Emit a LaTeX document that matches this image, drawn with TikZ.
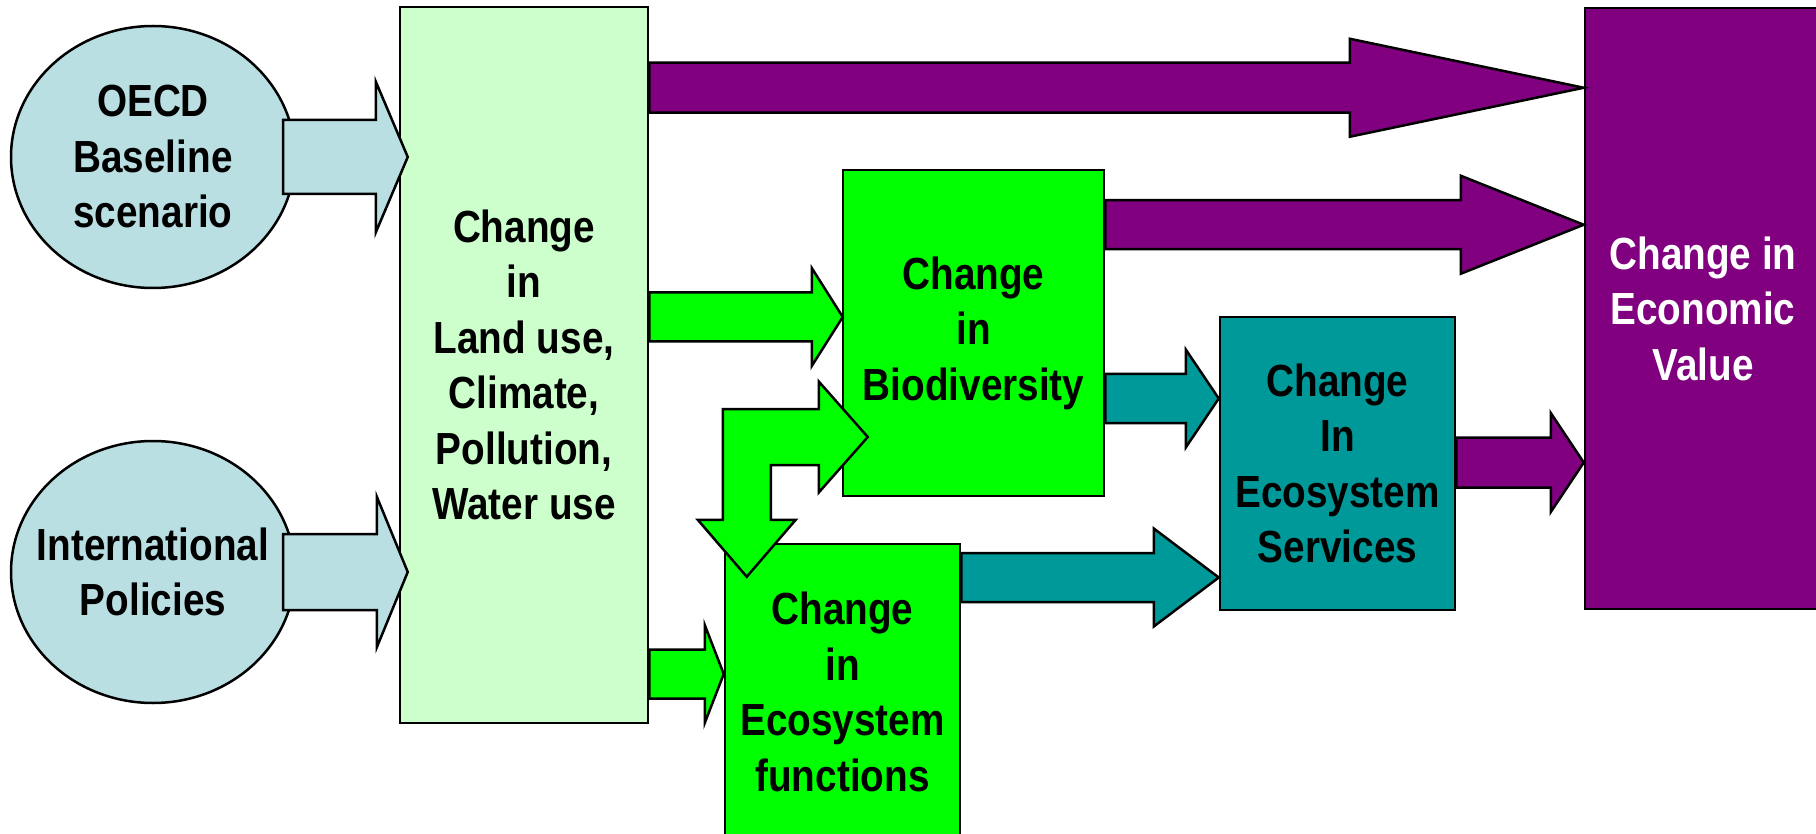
\documentclass[tikz,border=0pt]{standalone}
\usepackage{fontspec}
\setmainfont{Liberation Sans}[FakeStretch=0.86]
\usetikzlibrary{shapes.geometric,calc}
\definecolor{lblue}{HTML}{B9DFE3}
\definecolor{lgreen}{HTML}{CCFFCC}
\definecolor{vgreen}{HTML}{00FF00}
\definecolor{tealc}{HTML}{009999}
\definecolor{purp}{HTML}{800080}
\newcommand{\dfont}{\bfseries\fontsize{45}{55.5}\selectfont}
% #1 style, #2 shaft start, #3 tip, #4 shaft half width, #5 head half width, #6 head length
\newcommand{\blockarr}[6]{\filldraw[arrowpoly,#1] ($(#2)+(0,-#4)$) -- ($(#3)+(-#6,-#4)$) -- ($(#3)+(-#6,-#5)$) -- (#3) -- ($(#3)+(-#6,#5)$) -- ($(#3)+(-#6,#4)$) -- ($(#2)+(0,#4)$) -- cycle;}
\tikzset{
  boxnode/.style={draw=black, line width=2.5pt, inner sep=0pt, align=center, font=\dfont},
  ellnode/.style={ellipse, draw=black, line width=2.5pt, fill=lblue, inner sep=0pt, minimum width=284pt, minimum height=262pt},
  lbl/.style={align=center, font=\dfont, inner sep=0pt},
  arrowpoly/.style={draw=black, line width=2.5pt, line join=miter},
}
\begin{document}
\begin{tikzpicture}[x=1pt, y=-1pt]
\useasboundingbox (0,0) rectangle (1816,834);
\clip (0,0) rectangle (1816,834);
\fill[white] (0,0) rectangle (1816,834);
% nodes
\node[ellnode, label={[lbl]center:OECD\\Baseline\\scenario}] (oecd) at (153,157) {};
\node[ellnode, label={[lbl]center:International\\Policies}] (intl) at (153,572) {};
\node[boxnode, fill=lgreen, minimum width=248pt, minimum height=716pt] (land) at (524,365)
  {Change\\in\\Land use,\\Climate,\\Pollution,\\Water use};
\node[boxnode, fill=vgreen, minimum width=261pt, minimum height=326pt] (bio) at (973.5,333)
  {Change\\in\\Biodiversity};
\node[boxnode, fill=vgreen, minimum width=235pt, minimum height=296pt] (func) at (842.5,692)
  {Change\\in\\Ecosystem\\functions};
\node[boxnode, fill=tealc, minimum width=235pt, minimum height=293pt] (serv) at (1337.5,463.5)
  {Change\\In\\Ecosystem\\Services};
\node[boxnode, fill=purp, text=white, minimum width=236pt, minimum height=601pt] (econ) at (1703,308.5)
  {Change in\\Economic\\Value};
% connector coordinates
\coordinate (a1s) at ($(oecd.center)+(130,0)$);
\coordinate (a1t) at ($(land.west |- oecd.center)+(9,0)$);
\coordinate (a2s) at ($(intl.center)+(130,0)$);
\coordinate (a2t) at ($(land.west |- intl.center)+(9,0)$);
\coordinate (p1t) at ($(econ.north west)+(0,81)$);
\coordinate (p1s) at (land.east |- p1t);
\coordinate (p2t) at ($(econ.north west)+(0,218)$);
\coordinate (p2s) at (bio.east |- p2t);
\coordinate (p3t) at ($(econ.west |- serv.center)+(0,-1)$);
\coordinate (p3s) at (serv.east |- p3t);
\coordinate (g1t) at ($(bio.west)+(1,-16)$);
\coordinate (g1s) at (land.east |- g1t);
\coordinate (g2t) at ($(func.west)+(0,-18)$);
\coordinate (g2s) at (land.east |- g2t);
\coordinate (t1t) at ($(serv.west)+(0,-65)$);
\coordinate (t1s) at (bio.east |- t1t);
\coordinate (t2t) at ($(serv.west)+(0,114)$);
\coordinate (t2s) at (func.east |- t2t);
\coordinate (bd) at ($(func.north west)+(23,34)$);
\coordinate (br) at ($(bio.west)+(26,104)$);
% block arrows
\blockarr{fill=lblue}{a1s}{a1t}{37}{75.5}{32}
\blockarr{fill=lblue}{a2s}{a2t}{38}{75.5}{31}
\blockarr{fill=purp}{p1s}{p1t}{25}{49}{234}
\blockarr{fill=purp}{p2s}{p2t}{24.5}{49}{123}
\blockarr{fill=purp}{p3s}{p3t}{25}{49.5}{33}
\blockarr{fill=vgreen}{g1s}{g1t}{24.5}{49}{31}
\blockarr{fill=vgreen}{g2s}{g2t}{24.5}{49}{19}
\blockarr{fill=tealc}{t1s}{t1t}{24.5}{49}{33}
\blockarr{fill=tealc}{t2s}{t2t}{24.5}{49}{65}
% bent arrow between functions and biodiversity
\filldraw[arrowpoly, fill=vgreen] (bd) -- ($(bd)+(49,-57)$) -- ($(bd)+(24,-57)$)
  -- ($(bd |- br)+(24,28)$) -- ($(br)+(-49,28)$) -- ($(br)+(-49,55.5)$) -- (br)
  -- ($(br)+(-49,-55.5)$) -- ($(br)+(-49,-28)$) -- ($(bd |- br)+(-24,-28)$)
  -- ($(bd)+(-24,-57)$) -- ($(bd)+(-49,-57)$) -- cycle;
\end{tikzpicture}
\end{document}
